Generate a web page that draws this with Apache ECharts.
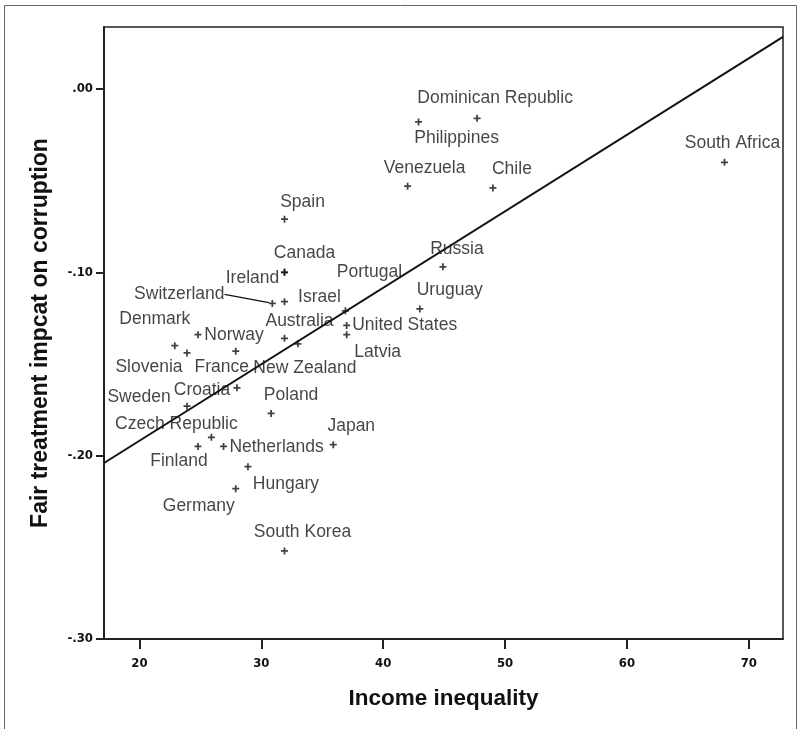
<!DOCTYPE html>
<html>
<head>
<meta charset="utf-8">
<script src="https://cdn.jsdelivr.net/npm/echarts@6/dist/echarts.min.js"></script>
<style>
html,body{margin:0;padding:0;background:#fff;}
#chart{width:799px;height:729px;}
</style>
</head>
<body>
<div id="chart"></div>
<script>
// ---- data ----
const countries = ['Dominican Republic','Philippines','Venezuela','Chile','South Africa','Spain','Canada','Ireland','Russia','Uruguay','Portugal','Switzerland','Israel','Denmark','Slovenia','Norway','France','Australia','New Zealand','United States','Latvia','Croatia','Sweden','Poland','Czech Republic','Finland','Netherlands','Japan','Hungary','Germany','South Korea'];
const incomeInequality = [47.7,42.9,42.0,49.0,68.0,31.9,31.9,31.9,44.9,43.0,36.9,30.9,31.9,22.9,23.9,24.8,27.9,31.9,33.0,37.0,37.0,28.0,23.9,30.8,25.9,24.8,26.9,35.9,28.9,27.9,31.9];
const fairTreatment = [-0.016,-0.018,-0.053,-0.054,-0.040,-0.071,-0.100,-0.100,-0.097,-0.120,-0.121,-0.117,-0.116,-0.140,-0.144,-0.134,-0.143,-0.136,-0.139,-0.129,-0.134,-0.163,-0.173,-0.177,-0.190,-0.195,-0.195,-0.194,-0.206,-0.218,-0.252];
const fitX = [17.09, 72.8];
const fitY = [-0.204, 0.0284];
const xTicks = [20,30,40,50,60,70];
const yTicks = [0,-0.1,-0.2,-0.3];

// ---- label placement (pixel offsets from marker, layout only) ----
const labelOffsets = [[18,-20],[38,16],[17,-18],[19,-19],[8,-19],[18,-17],[20,-19],[-32,6],[14,-18],[30,-19],[24,-39],[-93,-9],[35,-4],[-20,-26],[-38,14],[36,1],[-14,16],[15,-17],[7,24],[58,0],[31,18],[-35,2],[-48,-9],[20,-18],[-35,-13],[-19,15],[53,1],[18,-18],[38,18],[-37,18],[18,-19]];

const points = countries.map((c,i)=>{
  const item = {name:c, value:[incomeInequality[i], fairTreatment[i]]};
  if (c === 'Switzerland') item.labelLine = {show:true, lineStyle:{color:'#111', width:1.3}};
  return item;
});

const chart = echarts.init(document.getElementById('chart'));
const tickFont = {fontFamily:'"Liberation Sans Narrow","DejaVu Sans Condensed",sans-serif', fontSize:13, fontWeight:'bold', color:'#111'};
chart.setOption({
  animation:false,
  backgroundColor:'#fff',
  graphic:[{type:'rect', shape:{x:4.5,y:5.5,width:792,height:740}, style:{fill:'none', stroke:'#666', lineWidth:1}, silent:true}],
  grid:{left:104, top:27, right:16, bottom:90, show:true, borderColor:'#222', borderWidth:1.5},
  xAxis:{
    type:'value', min:fitX[0], max:fitX[1],
    name:'Income inequality', nameLocation:'middle', nameGap:48,
    nameTextStyle:{fontFamily:'"Liberation Sans",Arial,sans-serif', fontWeight:'bold', fontSize:22.5, color:'#111'},
    axisLine:{show:true, onZero:false, lineStyle:{color:'#222', width:2}},
    axisTick:{show:true, length:10, lineStyle:{color:'#222', width:2}, customValues:xTicks},
    axisLabel:Object.assign({margin:18, customValues:xTicks, formatter:v=>String(Math.round(v))}, tickFont),
    splitLine:{show:false}
  },
  yAxis:{
    type:'value', min:-0.3, max:0.0338,
    name:'Fair treatment impcat on corruption', nameLocation:'middle', nameGap:52,
    nameTextStyle:{fontFamily:'"Liberation Sans",Arial,sans-serif', fontWeight:'bold', fontSize:23, color:'#111'},
    axisLine:{show:true, onZero:false, lineStyle:{color:'#222', width:2}},
    axisTick:{show:true, length:8, lineStyle:{color:'#222', width:2}, customValues:yTicks},
    axisLabel:Object.assign({margin:11, customValues:yTicks, formatter:v=>{const a=Math.abs(v).toFixed(2).slice(1); return v<-1e-9?'-'+a:a;}}, tickFont),
    splitLine:{show:false}
  },
  series:[
    {
      type:'line', data:fitX.map((x,i)=>[x,fitY[i]]), showSymbol:false, symbol:'none',
      lineStyle:{color:'#111', width:2}, silent:true, z:3
    },
    {
      type:'scatter', data:points,
      symbol:'path://M3,0H5V3H8V5H5V8H3V5H0V3H3Z', symbolSize:7,
      itemStyle:{color:'#111'},
      label:{show:true, position:'inside', formatter:'{b}', color:'#151515',
        fontFamily:'"Liberation Sans",Arial,sans-serif', fontSize:17.5, align:'center', verticalAlign:'middle'},
      labelLayout:function(p){ const o = labelOffsets[p.dataIndex]; return {dx:o[0], dy:o[1]}; },
      labelLine:{show:false},
      z:4
    }
  ]
});
</script>
</body>
</html>
